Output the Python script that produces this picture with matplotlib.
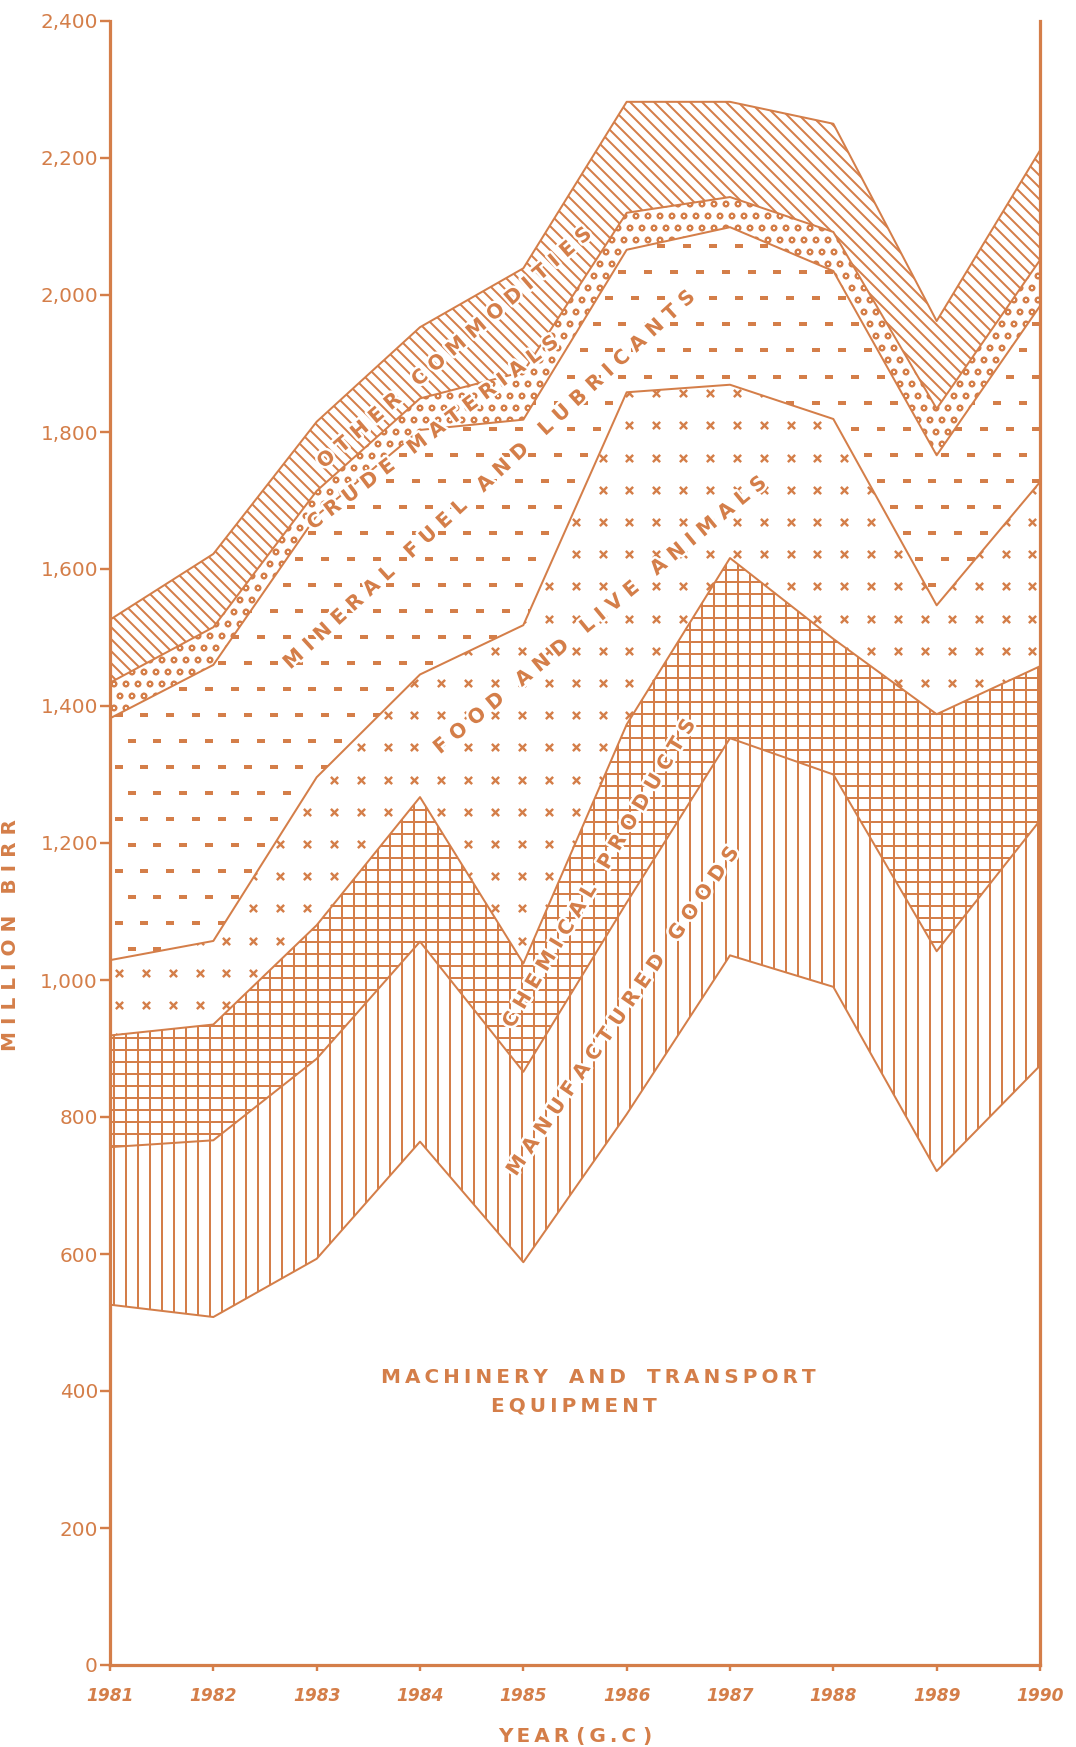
"""Importações por grupo de produtos (1981-1990), área empilhada com hachuras."""
import numpy as np
import matplotlib
matplotlib.use("Agg")
import matplotlib.pyplot as plt
import matplotlib.patheffects as pe

YEARS = [1981, 1982, 1983, 1984, 1985, 1986, 1987, 1988, 1989, 1990]

# valores por grupo (milhões de birr), de baixo para cima
MACHINERY = [526, 508, 593, 764, 588, 804, 1036, 990, 721, 875]
MANUFACTURED = [230, 258, 292, 292, 278, 309, 317, 310, 321, 358]
CHEMICAL = [163, 169, 195, 211, 158, 260, 263, 198, 346, 225]
FOOD = [110, 122, 216, 179, 494, 485, 253, 321, 159, 269]
MINERAL = [353, 403, 382, 357, 300, 208, 230, 216, 219, 257]
CRUDE = [52, 55, 36, 46, 70, 54, 44, 57, 68, 67]
OTHER = [92, 107, 101, 104, 151, 162, 139, 158, 128, 160]

Y_TICKS = list(range(0, 2401, 200))

COR = "#d47e49"
DPI = 144
W, H = 1076, 1747


def espacar(txt, gap="\u2009", sep="   "):
    return sep.join(gap.join(w) for w in txt.split())


def textura(ax, lo, hi, marker, dx, dy, s, lw, stagger):
    """marcadores em grade, recortados pela faixa (lo, hi)."""
    coll = ax.fill_between(YEARS, lo, hi, facecolor="none", linewidth=0)
    pts = []
    for i, y in enumerate(np.arange(dy / 2, 2400, dy)):
        off = dx / 2 if (stagger and i % 2) else 0
        for x in np.arange(1981 + dx / 3 + off, 1990, dx):
            pts.append((x, y))
    pts = np.array(pts)
    sc = ax.scatter(pts[:, 0], pts[:, 1], marker=marker, s=s, c=COR,
                    linewidths=lw, zorder=1.5)
    sc.set_clip_path(coll.get_paths()[0], coll.get_transform())


def main():
    plt.rcParams["font.family"] = "DejaVu Sans"
    plt.rcParams["hatch.linewidth"] = 1.0

    fig = plt.figure(figsize=(W / DPI, H / DPI), dpi=DPI)
    ax = fig.add_axes([110 / W, 1 - 1665 / H, 930 / W, 1644 / H])

    tops = np.cumsum(np.vstack([MACHINERY, MANUFACTURED, CHEMICAL, FOOD,
                                MINERAL, CRUDE, OTHER]), axis=0)

    # faixas com hachura do próprio matplotlib
    ax.fill_between(YEARS, tops[0], tops[1], facecolor="white", edgecolor=COR,
                    hatch="||", linewidth=0, zorder=1)
    ax.fill_between(YEARS, tops[1], tops[2], facecolor="white", edgecolor=COR,
                    hatch="++", linewidth=0, zorder=1)
    ax.fill_between(YEARS, tops[4], tops[5], facecolor="white", edgecolor=COR,
                    hatch="oo", linewidth=0, zorder=1)
    ax.fill_between(YEARS, tops[5], tops[6], facecolor="white", edgecolor=COR,
                    hatch="\\\\\\\\", linewidth=0, zorder=1)
    # faixas com marcadores (x e traços)
    textura(ax, tops[2], tops[3], "x", 0.26, 47, 13, 1.2, False)
    textura(ax, tops[3], tops[4], "_", 0.25, 38, 13, 1.1, True)

    for t in tops:
        ax.plot(YEARS, t, color=COR, lw=1.0, zorder=2)

    ax.set_xlim(1981, 1990)
    ax.set_ylim(0, 2400)
    ax.set_xticks(YEARS)
    ax.set_xticklabels([str(y) for y in YEARS], fontstyle="italic",
                       fontweight="bold")
    ax.set_yticks(Y_TICKS)
    ax.set_yticklabels([f"{v:,}" for v in Y_TICKS])
    ax.tick_params(axis="y", direction="out", length=5, width=1.2, color=COR,
                   labelcolor=COR, labelsize=10, pad=1)
    ax.tick_params(axis="x", direction="out", length=3, width=1.2, color=COR,
                   labelcolor=COR, labelsize=8.5, pad=8)
    for lado in ["left", "bottom", "right"]:
        ax.spines[lado].set_color(COR)
        ax.spines[lado].set_linewidth(1.6)
    ax.spines["top"].set_visible(False)

    ax.set_xlabel(espacar("YEAR (G.C )", sep=" "), color=COR, fontsize=10,
                  fontweight="bold")
    ax.xaxis.set_label_coords(0.5, -0.038)
    ax.set_ylabel(espacar("MILLION BIRR", gap=" "), color=COR, fontsize=10,
                  fontweight="bold")
    ax.yaxis.set_label_coords(-0.097, 0.444)

    halo = [pe.withStroke(linewidth=2.5, foreground="white")]
    rotulos = [
        ("OTHER COMMODITIES", 1984.34, 1923, 41),
        ("CRUDE MATERIALS", 1984.13, 1799, 37),
        ("MINERAL FUEL AND LUBRICANTS", 1984.68, 1731, 42.5),
        ("FOOD AND LIVE ANIMALS", 1985.75, 1533, 39.5),
        ("CHEMICAL PRODUCTS", 1985.74, 1156, 59),
        ("MANUFACTURED GOODS", 1985.97, 955, 55.5),
    ]
    for txt, x, y, ang in rotulos:
        ax.text(x, y, espacar(txt, gap=" "), rotation=ang, rotation_mode="anchor",
                ha="center", va="center", color=COR, fontsize=10,
                fontweight="bold", path_effects=halo, zorder=3)

    ax.text(1985.73, 420, espacar("MACHINERY AND TRANSPORT"), ha="center",
            va="center", color=COR, fontsize=10, fontweight="bold")
    ax.text(1985.49, 378, espacar("EQUIPMENT"), ha="center", va="center",
            color=COR, fontsize=10, fontweight="bold")

    fig.savefig("out.png", dpi=DPI, facecolor="white")


if __name__ == "__main__":
    main()
